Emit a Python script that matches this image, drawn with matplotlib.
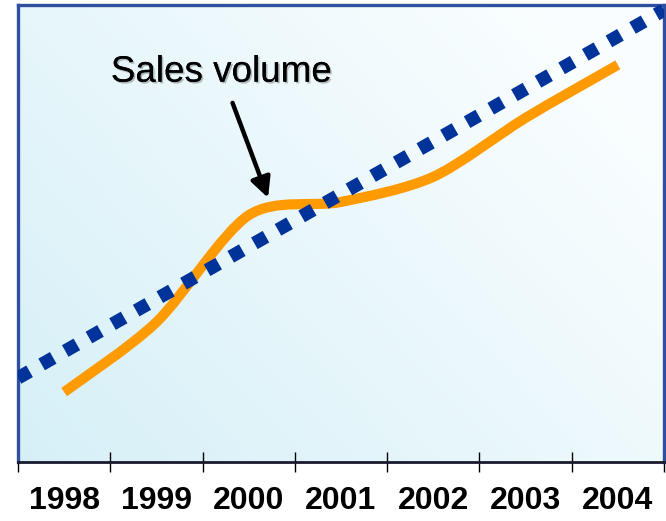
import numpy as np
import matplotlib
matplotlib.use("Agg")
import matplotlib.pyplot as plt
from matplotlib.path import Path
from matplotlib.patches import PathPatch
import matplotlib.patheffects as pe

plt.rcParams['font.family'] = ['Liberation Sans', 'DejaVu Sans']

years = ["1998", "1999", "2000", "2001", "2002", "2003", "2004"]
sales = [15.3, 30.6, 54.0, 56.9, 62.4, 75.3, 86.9]
trend_x = [0.5, 7.5]
trend_y = [18.4, 98.9]

ORANGE = "#FF9A00"
NAVY = "#003399"
FRAME = "#2F4F9F"

fig = plt.figure(figsize=(6.66, 5.21), dpi=100)
ax = fig.add_axes([18 / 666, 1 - 462 / 521, 646 / 666, 457 / 521])
ax.set_xlim(0.5, 7.5)
ax.set_ylim(0, 100)

# soft diagonal gradient background: pale cyan bottom-left to near white top-right
gx, gy = np.meshgrid(np.linspace(0, 1, 200), np.linspace(0, 1, 200))
t = np.clip((gx * 0.75 + (1 - gy) * 0.5) / 1.1, 0, 1)
c0 = np.array([0.84, 0.94, 0.97])
c1 = np.array([0.98, 0.995, 1.0])
img = c0[None, None, :] * (1 - t[..., None]) + c1[None, None, :] * t[..., None]
ax.imshow(img, extent=[0, 1, 0, 1], transform=ax.transAxes, aspect='auto',
          origin='upper', zorder=0, interpolation='bilinear')

# smoothed sales curve built from cubic Bezier segments through the points
xs = np.arange(1, len(sales) + 1, dtype=float)
pts = np.column_stack([xs, sales])
verts = [tuple(pts[0])]
codes = [Path.MOVETO]
n = len(pts)
tension = 1.0 / 7.0
for i in range(n - 1):
    p_prev = pts[i - 1] if i > 0 else pts[i]
    p0 = pts[i]
    p1 = pts[i + 1]
    p_next = pts[i + 2] if i + 2 < n else pts[i + 1]
    c1p = p0 + (p1 - p_prev) * tension
    c2p = p1 - (p_next - p0) * tension
    verts += [tuple(c1p), tuple(c2p), tuple(p1)]
    codes += [Path.CURVE4, Path.CURVE4, Path.CURVE4]
curve = PathPatch(Path(verts, codes), facecolor='none', edgecolor=ORANGE,
                  lw=7.3, capstyle='butt', joinstyle='round', zorder=3)
ax.add_patch(curve)

# linear trend drawn as square dots
ax.plot(trend_x, trend_y, color=NAVY, lw=9.6, dashes=(1.0, 1.04),
        solid_capstyle='butt', dash_capstyle='butt', zorder=4)

# callout
txt = ax.annotate("Sales volume", xy=(3.21, 57.8), xytext=(2.70, 85.3),
                  ha='center', va='center', fontsize=26.5, color='black',
                  arrowprops=dict(arrowstyle='-|>', color='black', lw=3.2,
                                  mutation_scale=30, shrinkA=8, shrinkB=0),
                  zorder=5)
txt.set_path_effects([pe.withSimplePatchShadow(offset=(1.2, -1.2), alpha=0.25),
                      pe.Normal()])

# frame
for side in ['left', 'top', 'right']:
    ax.spines[side].set_color(FRAME)
    ax.spines[side].set_linewidth(2.4)
ax.spines['bottom'].set_color('#1a1a2e')
ax.spines['bottom'].set_linewidth(2.0)

# category boundaries as ticks, labels centered under each category
ax.set_xticks(np.arange(0.5, 8.0, 1.0))
ax.set_xticklabels([])
ax.tick_params(axis='x', which='major', direction='inout', length=15,
               width=1.0, color='black')
ax.set_xticks(xs, minor=True)
ax.set_xticklabels(years, minor=True, fontsize=23, fontweight='bold')
ax.tick_params(axis='x', which='minor', length=0, pad=17)
ax.set_yticks([])

fig.savefig("out.png", dpi=100)
